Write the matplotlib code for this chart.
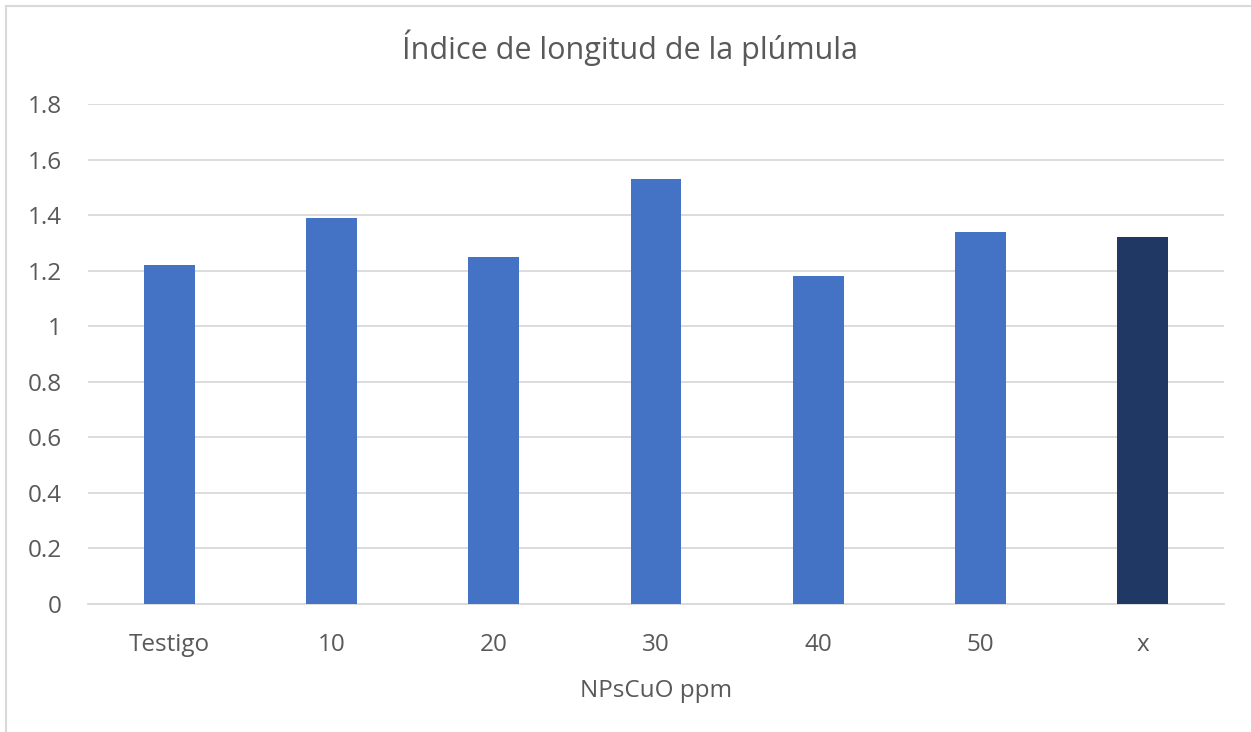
import matplotlib
matplotlib.use("Agg")
import matplotlib.pyplot as plt
from matplotlib.patches import Rectangle

categories = ["Testigo", "10", "20", "30", "40", "50", "x"]
values = [1.22, 1.39, 1.25, 1.53, 1.18, 1.34, 1.32]
colors = ["#4472C4"] * 6 + ["#203864"]
yticks = [0, 0.2, 0.4, 0.6, 0.8, 1, 1.2, 1.4, 1.6, 1.8]
ytick_labels = ["0", "0.2", "0.4", "0.6", "0.8", "1", "1.2", "1.4", "1.6", "1.8"]

plt.rcParams['font.family'] = ['Open Sans', 'DejaVu Sans']
txt = "#595959"

fig = plt.figure(figsize=(12.51, 7.32), dpi=100)
fig.patches.append(Rectangle((6/1251, -0.1), 1.2, (732-6)/732 + 0.1, transform=fig.transFigure,
                             fill=False, edgecolor="#D9D9D9", linewidth=1.5))
ax = fig.add_axes([88/1251, 1-604/732, (1224-88)/1251, 500/732])
x = list(range(len(categories)))
ax.bar(x, values, width=0.314, color=colors, zorder=3)
ax.set_xlim(-0.5, len(categories) - 0.5)
ax.set_ylim(0, 1.8)
ax.set_yticks(yticks)
ax.set_yticklabels(ytick_labels)
ax.set_xticks(x)
ax.set_xticklabels(categories)
ax.grid(axis="y", color="#D9D9D9", linewidth=1.3, zorder=0)
for s in ["top", "right", "left"]:
    ax.spines[s].set_visible(False)
ax.spines["bottom"].set_color("#D9D9D9")
ax.spines["bottom"].set_linewidth(1.3)
ax.tick_params(axis="both", length=0, labelsize=17.5, colors=txt)
ax.tick_params(axis="y", pad=19)
ax.tick_params(axis="x", pad=21)
ax.set_xlabel("NPsCuO ppm", fontsize=17.5, color=txt, labelpad=16)
fig.text(630/1251, 1-48/732, "Índice de longitud de la plúmula", fontsize=22, color=txt,
         ha="center", va="center")
fig.savefig("out.png", dpi=100)
